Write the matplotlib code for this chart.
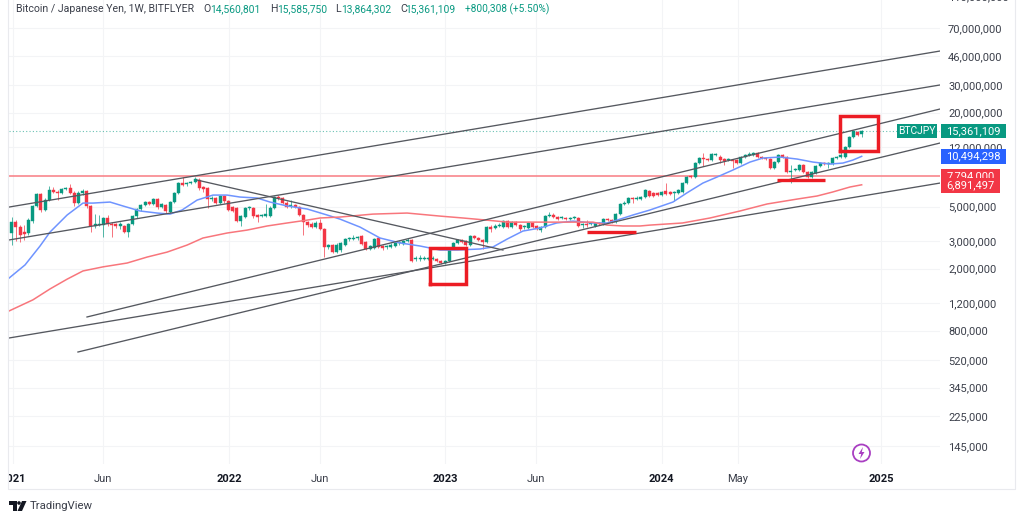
import matplotlib
matplotlib.use('Agg')
import matplotlib.pyplot as plt
from matplotlib.patches import Circle, Polygon, Rectangle
from matplotlib.transforms import Bbox

# ── Weekly candles, BTCJPY, millions of yen ───────────────────────────────────
opens = [
    3.38, 3.97, 3.69, 3.43, 3.38, 4.03, 5.04, 6.01, 4.75, 5.50,
    6.38, 6.19, 6.10, 6.47, 6.57, 6.10, 5.26, 6.10, 6.29, 5.04,
    3.75, 3.80, 3.80, 4.22, 3.86, 3.86, 3.75, 3.75, 3.43, 3.86,
    4.34, 4.82, 5.11, 5.34, 5.19, 5.58, 4.96, 5.11, 4.61, 5.34,
    6.10, 7.07, 6.97, 7.07, 7.18, 7.39, 6.67, 6.57, 5.58, 5.67,
    5.26, 5.84, 5.42, 4.96, 4.89, 4.03, 4.28, 4.89, 4.89, 4.41,
    4.34, 4.34, 4.34, 4.89, 5.75, 5.67, 5.26, 5.04, 5.11, 4.96,
    4.41, 3.97, 3.86, 3.69, 3.92, 3.58, 2.75, 2.83, 2.55, 2.63,
    2.83, 3.09, 3.09, 3.14, 3.23, 2.96, 2.67, 2.71, 3.14, 2.79,
    2.75, 2.75, 2.79, 2.92, 2.87, 3.00, 3.05, 2.30, 2.30, 2.30,
    2.30, 2.30, 2.30, 2.24, 2.17, 2.24, 2.71, 2.92, 3.05, 3.00,
    2.83, 3.23, 3.14, 3.05, 2.96, 3.69, 3.64, 3.75, 3.69, 4.03,
    3.69, 3.97, 3.80, 3.69, 3.64, 3.92, 3.75, 3.53, 3.69, 4.34,
    4.41, 4.28, 4.22, 4.22, 4.15, 4.22, 4.22, 3.80, 3.86, 3.86,
    3.75, 3.92, 3.86, 4.15, 4.09, 3.97, 4.47, 5.19, 5.26, 5.67,
    5.58, 5.58, 5.75, 6.29, 6.10, 6.10, 5.92, 6.29, 6.19, 6.10,
    6.10, 6.19, 7.07, 7.84, 7.73, 9.50, 10.23, 10.08, 9.93, 10.70,
    10.38, 10.08, 9.93, 9.93, 9.93, 9.50, 10.38, 10.70, 10.70, 11.02,
    10.38, 10.23, 10.08, 8.82, 9.64, 10.70, 10.38, 8.32, 8.57, 8.57,
    9.22, 8.32, 7.73, 8.19, 9.09, 9.50, 9.36, 9.36, 10.23, 10.38,
    10.38, 12.04, 13.96, 15.03, 14.56,
]
closes = [
    3.97, 3.69, 3.28, 3.33, 4.09, 5.04, 6.01, 4.75, 5.50, 6.38,
    6.19, 6.10, 6.47, 6.57, 6.10, 5.26, 6.10, 6.29, 5.04, 3.75,
    3.86, 3.86, 4.22, 3.86, 3.80, 3.75, 3.86, 3.43, 3.86, 4.34,
    4.82, 5.11, 5.34, 5.19, 5.58, 4.96, 5.19, 4.68, 5.34, 6.10,
    7.07, 6.87, 7.07, 7.18, 7.50, 6.57, 6.47, 5.58, 5.67, 5.26,
    5.84, 5.42, 4.75, 4.68, 4.03, 4.34, 4.89, 4.96, 4.34, 4.28,
    4.41, 4.47, 4.89, 5.75, 5.67, 5.26, 4.96, 5.11, 4.96, 4.41,
    3.97, 3.80, 3.69, 3.92, 3.58, 2.75, 2.83, 2.55, 2.83, 2.92,
    3.09, 3.14, 3.14, 3.18, 2.87, 2.67, 2.79, 3.09, 2.75, 2.71,
    2.79, 2.83, 2.92, 2.96, 3.00, 3.05, 2.24, 2.34, 2.34, 2.34,
    2.34, 2.34, 2.24, 2.17, 2.24, 2.71, 2.92, 3.05, 2.96, 2.83,
    3.23, 3.14, 3.05, 2.96, 3.69, 3.58, 3.75, 3.80, 4.03, 3.69,
    3.97, 3.80, 3.58, 3.75, 3.92, 3.69, 3.58, 3.69, 4.34, 4.41,
    4.28, 4.15, 4.28, 4.15, 4.22, 4.28, 3.75, 3.86, 3.80, 3.92,
    3.92, 3.86, 4.15, 4.09, 3.97, 4.47, 5.19, 5.26, 5.67, 5.58,
    5.67, 5.75, 6.38, 5.84, 5.84, 5.92, 6.19, 6.01, 6.01, 6.19,
    6.38, 7.07, 7.73, 7.73, 9.50, 10.23, 10.08, 9.93, 10.86, 10.86,
    9.93, 9.78, 10.08, 9.78, 9.50, 10.38, 10.70, 10.86, 11.02, 10.38,
    10.23, 10.08, 8.82, 9.64, 10.70, 10.38, 8.32, 8.44, 8.69, 9.22,
    8.32, 7.73, 8.32, 9.09, 9.50, 9.36, 9.50, 10.23, 10.38, 10.70,
    12.04, 13.96, 15.25, 14.38, 15.36,
]
highs = [
    4.28, 4.09, 3.80, 3.80, 4.22, 5.11, 6.10, 6.10, 5.67, 6.77,
    6.67, 6.38, 6.57, 6.67, 6.97, 6.29, 6.29, 6.47, 6.38, 5.11,
    4.47, 4.41, 4.28, 4.41, 3.97, 3.92, 3.97, 3.80, 3.92, 4.41,
    4.89, 5.19, 5.42, 5.42, 5.67, 5.67, 5.26, 5.19, 5.42, 6.19,
    7.18, 7.73, 7.18, 7.28, 7.73, 7.61, 6.77, 6.67, 5.84, 5.75,
    5.92, 5.92, 5.50, 5.04, 4.96, 4.41, 4.96, 5.04, 4.96, 4.47,
    4.47, 5.19, 5.04, 5.84, 5.92, 5.75, 5.42, 5.50, 5.19, 5.04,
    4.47, 4.03, 3.97, 4.03, 4.15, 3.64, 2.87, 2.87, 2.92, 2.96,
    3.14, 3.18, 3.28, 3.23, 3.28, 3.00, 2.83, 3.14, 3.18, 2.83,
    2.83, 2.92, 2.96, 3.00, 3.05, 3.14, 3.09, 2.41, 2.44, 2.41,
    2.37, 2.41, 2.34, 2.27, 2.27, 2.75, 2.96, 3.09, 3.09, 3.05,
    3.28, 3.28, 3.18, 3.09, 3.75, 3.80, 3.86, 3.92, 4.09, 4.09,
    4.03, 4.03, 3.86, 3.80, 3.97, 3.97, 3.80, 3.75, 4.41, 4.61,
    4.54, 4.34, 4.34, 4.28, 4.28, 4.34, 4.28, 3.92, 4.09, 3.97,
    3.97, 3.97, 4.22, 4.22, 4.15, 4.54, 5.26, 5.42, 5.75, 5.75,
    5.84, 5.84, 6.47, 6.38, 6.19, 6.19, 6.29, 7.07, 6.29, 6.29,
    6.47, 7.18, 7.84, 7.96, 9.64, 10.38, 11.02, 10.23, 11.02, 11.02,
    10.70, 10.23, 10.23, 10.08, 10.08, 10.54, 10.86, 11.19, 11.19, 11.19,
    10.54, 10.38, 10.23, 9.78, 10.86, 10.86, 10.54, 9.22, 8.82, 9.36,
    9.36, 8.44, 8.44, 9.22, 9.64, 9.64, 9.64, 10.38, 10.54, 11.52,
    12.22, 14.17, 15.48, 15.25, 15.59,
]
lows = [
    2.83, 3.00, 2.96, 3.05, 3.28, 3.92, 4.96, 4.61, 4.68, 5.42,
    6.10, 5.50, 6.01, 6.38, 6.01, 5.04, 5.19, 5.92, 4.89, 3.43,
    3.64, 3.75, 3.18, 3.75, 3.18, 3.64, 3.58, 3.38, 3.18, 3.80,
    4.22, 4.68, 5.04, 5.11, 5.11, 4.82, 4.89, 4.54, 4.54, 5.26,
    6.01, 6.77, 6.77, 6.97, 7.07, 6.38, 6.19, 4.89, 5.42, 5.19,
    5.19, 5.26, 4.68, 4.61, 3.97, 3.75, 4.22, 4.75, 4.22, 3.97,
    4.28, 4.28, 4.28, 4.82, 5.50, 5.19, 4.89, 4.89, 4.89, 4.34,
    3.28, 3.69, 3.64, 3.64, 3.53, 2.37, 2.67, 2.52, 2.52, 2.55,
    2.79, 3.00, 3.05, 3.05, 2.83, 2.63, 2.63, 2.67, 2.71, 2.63,
    2.67, 2.71, 2.75, 2.83, 2.83, 2.96, 2.20, 2.24, 2.24, 2.27,
    2.27, 2.27, 2.20, 2.14, 2.14, 2.20, 2.67, 2.87, 2.92, 2.79,
    2.79, 3.09, 3.00, 2.67, 2.92, 3.43, 3.58, 3.69, 3.64, 3.64,
    3.64, 3.75, 3.48, 3.58, 3.58, 3.64, 3.53, 3.43, 3.64, 4.28,
    4.22, 4.09, 4.15, 4.09, 4.09, 4.15, 3.69, 3.64, 3.69, 3.80,
    3.69, 3.80, 3.80, 4.03, 3.92, 3.92, 4.41, 5.11, 5.19, 5.26,
    5.50, 5.50, 5.67, 5.75, 5.75, 5.84, 5.84, 5.92, 5.92, 5.42,
    6.01, 6.10, 6.97, 7.61, 7.61, 9.36, 9.09, 9.78, 9.78, 10.54,
    9.50, 9.22, 9.78, 8.82, 9.36, 9.36, 10.23, 10.54, 10.54, 10.23,
    10.08, 9.93, 8.69, 8.69, 9.50, 10.23, 8.19, 7.07, 8.44, 8.44,
    8.19, 7.61, 7.61, 8.07, 8.95, 9.22, 8.82, 9.22, 10.08, 10.23,
    10.23, 11.86, 13.75, 14.17, 13.86,
]

# ── Moving averages ───────────────────────────────────────────────────────────
ma_fast_week = [-0.6, 3.2, 6.8, 9.2, 13.3, 17.1, 19.5, 23.6, 26.7, 30.8, 34.9, 38, 40.9, 44.5, 48.3, 51.7, 54.8,
                58.9, 62, 66.1, 70.9, 75.7, 78.8, 83.6, 88.4, 93.2, 98, 102.8, 106.9, 112.4, 115.5, 118.9, 122.7,
                126.8, 130.8, 134.7, 139.5, 142.9, 145.3, 149.1, 153.2, 158.7, 162, 165.9, 169.3, 173.1, 177.2,
                180.3, 184.4, 188.5, 192.3, 196.4, 199.5, 201.9, 204]
ma_fast_price = [1.74, 2.11, 2.79, 3.43, 4.41, 5.26, 5.26, 5.34, 5.04, 4.68, 4.54, 4.47, 4.75, 5.50, 5.92, 5.92, 5.75,
                 5.67, 5.34, 5.04, 4.82, 4.41, 4.15, 3.69, 3.14, 2.92, 2.79, 2.63, 2.63, 2.67, 2.75, 3.09, 3.48,
                 3.64, 3.92, 4.03, 3.92, 3.92, 4.09, 4.41, 4.75, 5.34, 6.10, 7.07, 7.73, 8.57, 9.64,
                 10.23, 10.38, 10.08, 9.64, 9.36, 9.50, 9.93, 10.49]
ma_slow_week = [-0.6, 5.1, 9.2, 13.3, 17.1, 21.9, 27.7, 32.5, 37.3, 42.1, 45.9, 51.7, 56.5, 61.3, 66.1, 70.9, 74,
                78.8, 86.7, 94.9, 102.8, 108.3, 114, 118.9, 126.8, 133.3, 139.5, 142.9, 146.7, 150.8, 153.2, 161,
                167.6, 174.8, 181.3, 188.5, 193.3, 197, 201.2, 204]
ma_slow_price = [1.07, 1.26, 1.48, 1.71, 1.93, 2.05, 2.17, 2.37, 2.55, 2.83, 3.14, 3.38, 3.53, 3.75, 3.92, 4.09, 4.22,
                 4.28, 4.47, 4.54, 4.34, 4.22, 4.09, 3.97, 3.97, 3.97, 3.97, 3.80, 3.75, 3.75, 3.80, 3.92,
                 4.22, 4.68, 5.19, 5.58, 5.84, 6.19, 6.67, 6.89]

# ── Hand drawn annotations: (week, price) end points ──────────────────────────
trend_weeks = [(-0.65, 222.8), (-0.65, 222.8), (18.07, 222.8), (15.9, 222.8), (-0.65, 222.8), (44.5, 117.9)]
trend_prices = [(4.96, 49.7), (3.05, 30.1), (0.978, 21.1), (0.583, 12.77), (0.717, 7.07), (7.39, 2.63)]
box_weeks = [(100.4, 109.0), (198.8, 207.9)]
box_prices = [(1.59, 2.71), (11.35, 19.0)]
bar_weeks = [(138.1, 149.8), (183.7, 195.2)]
bar_prices = [3.43, 7.39]
level_price = 7.794
last_price = 15.361

# ── Axis labels ───────────────────────────────────────────────────────────────
price_ticks = [70, 46, 30, 20, 12, 5, 3, 2, 1.2, 0.8, 0.52, 0.345, 0.225, 0.145]
price_labels = ["70,000,000", "46,000,000", "30,000,000", "20,000,000", "12,000,000", "5,000,000", "3,000,000",
                "2,000,000", "1,200,000", "800,000", "520,000", "345,000", "225,000", "145,000"]
time_ticks = [0.3, 21.9, 52.2, 74, 104, 125.8, 156, 174.3, 208.6]
time_labels = ["2021", "Jun", "2022", "Jun", "2023", "Jun", "2024", "May", "2025"]

# ── Styling Config ────────────────────────────────────────────────────────────
up_color = "#089981"
down_color = "#f23645"
blue_color = "#2962ff"
text_color = "#3b3f4a"
grid_color = "#f3f4f6"
line_color = "#55585f"
mark_color = "#ec1c24"
plt.rcParams['font.family'] = ['Roboto', 'DejaVu Sans']

fig = plt.figure(figsize=(10.24, 5.21), dpi=100)
fig.patch.set_facecolor("white")
ax = fig.add_axes([9 / 1024, (521 - 464) / 521, 931 / 1024, 464 / 521])
ax.set_yscale("log")
ax.set_xlim(-0.65, 222.8)
ax.set_ylim(0.1115, 105.6)
for spine in ax.spines.values():
    spine.set_visible(False)

ax.set_yticks(price_ticks, price_labels)
ax.minorticks_off()
ax.yaxis.tick_right()
ax.tick_params(axis='y', length=0, pad=5.8, labelsize=8.0, labelcolor=text_color)
ax.set_xticks(time_ticks, time_labels)
ax.tick_params(axis='x', length=0, pad=7.5, labelsize=8.0, labelcolor=text_color)
ax.grid(True, color=grid_color, linewidth=0.8)
ax.set_axisbelow(True)
clip_left = Bbox([[9, 0], [1024, 521]])
for label in ax.get_xticklabels():
    if label.get_text().isdigit():
        label.set_fontweight('bold')
        label.set_color("#131722")
    label.set_clip_box(clip_left)
    label.set_clip_on(True)

# Top label sits above the pane and gets cut by the picture edge
ax.annotate("110,000,000", xy=(1, 110), xycoords=ax.get_yaxis_transform(), xytext=(5.8, 0),
            textcoords="offset points", va="center", fontsize=8.0, color=text_color, annotation_clip=False)

ax.axhline(level_price, color="#f8868c", linewidth=1.2, zorder=2)
ax.axhline(last_price, color=up_color, linewidth=0.8, linestyle=(0, (1, 2)), alpha=0.6, zorder=2)

# ── Candles ───────────────────────────────────────────────────────────────────
for week, (o, c, h, l) in enumerate(zip(opens, closes, highs, lows)):
    color = up_color if c >= o else down_color
    ax.vlines(week, l, h, color=color, linewidth=0.7, alpha=0.7, zorder=3)
    ax.bar(week, abs(c - o), bottom=min(o, c), width=0.72, color=color, edgecolor=color, linewidth=0.3, zorder=4)

ax.plot(ma_fast_week, ma_fast_price, color="#6f94ff", linewidth=1.1, zorder=5)
ax.plot(ma_slow_week, ma_slow_price, color="#f8767c", linewidth=1.1, zorder=5)

for weeks, prices in zip(trend_weeks, trend_prices):
    ax.plot(weeks, prices, color=line_color, linewidth=0.95, zorder=6)
for (w0, w1), (p0, p1) in zip(box_weeks, box_prices):
    ax.plot([w0, w1, w1, w0, w0], [p0, p0, p1, p1, p0], color=mark_color, linewidth=2.5,
            solid_joinstyle='miter', zorder=7)
for weeks, price in zip(bar_weeks, bar_prices):
    ax.plot(weeks, [price, price], color=mark_color, linewidth=2.4, solid_capstyle='butt', zorder=7)

# ── Overlay in picture pixels: header, price tags, logos, frame ───────────────
top = fig.add_axes([0, 0, 1, 1], facecolor='none')
top.set_xlim(0, 1024)
top.set_ylim(521, 0)
top.axis('off')

top.plot([8, 8, 1015, 1015], [0, 489, 489, 0], color="#e9eaee", linewidth=0.8)

header = [(16, "Bitcoin / Japanese Yen, 1W, BITFLYER", "#3b3f4a", 7.6), (203, "O", "#3b3f4a", 7.6),
          (210.5, "14,560,801", up_color, 7.4), (270, "H", "#3b3f4a", 7.6), (277, "15,585,750", up_color, 7.4),
          (335, "L", "#3b3f4a", 7.6), (341, "13,864,302", up_color, 7.4), (400, "C", "#3b3f4a", 7.6),
          (405.5, "15,361,109", up_color, 7.4), (465, "+800,308 (+5.50%)", up_color, 7.3)]
for x, text, color, size in header:
    top.text(x, 9, text, color=color, fontsize=size, va='center', ha='left')

tags = [(897, 937, 124, 138, "BTCJPY", up_color, 7.4), (941, 1006, 124, 138, "15,361,109", up_color, 8.0),
        (941, 1006, 149, 164, "10,494,298", blue_color, 8.0), (941, 1000, 169, 184, "7,794,000", down_color, 8.0),
        (941, 1000, 178, 193, "6,891,497", down_color, 8.0)]
for x0, x1, y0, y1, text, color, size in tags:
    top.add_patch(Rectangle((x0, y0), x1 - x0, y1 - y0, facecolor=color, edgecolor='none', zorder=8))
    top.text((x0 + x1) / 2, (y0 + y1) / 2, text, color="white", fontsize=size, ha='center', va='center', zorder=8)

# Lightning badge
top.add_patch(Circle((861.5, 453), 8.5, facecolor='white', edgecolor="#a93fc2", linewidth=1.3, zorder=8))
top.add_patch(Polygon([(863, 447), (858.5, 454), (861.2, 454), (860, 459), (864.5, 452), (861.8, 452)],
                      closed=True, facecolor="#a93fc2", edgecolor='none', zorder=9))

# TradingView mark
top.add_patch(Polygon([(9, 501), (17, 501), (17, 511), (13, 511), (13, 505), (9, 505)],
                      closed=True, facecolor="#131722", edgecolor='none'))
top.add_patch(Circle((19, 503), 1.8, facecolor="#131722", edgecolor='none'))
top.add_patch(Polygon([(22, 501), (26.5, 501), (22, 511), (17.5, 511)],
                      closed=True, facecolor="#131722", edgecolor='none'))
top.text(30, 506, "TradingView", color="#3b3f4a", fontsize=8.2, va='center', ha='left')

fig.savefig("out.png", dpi=100)
